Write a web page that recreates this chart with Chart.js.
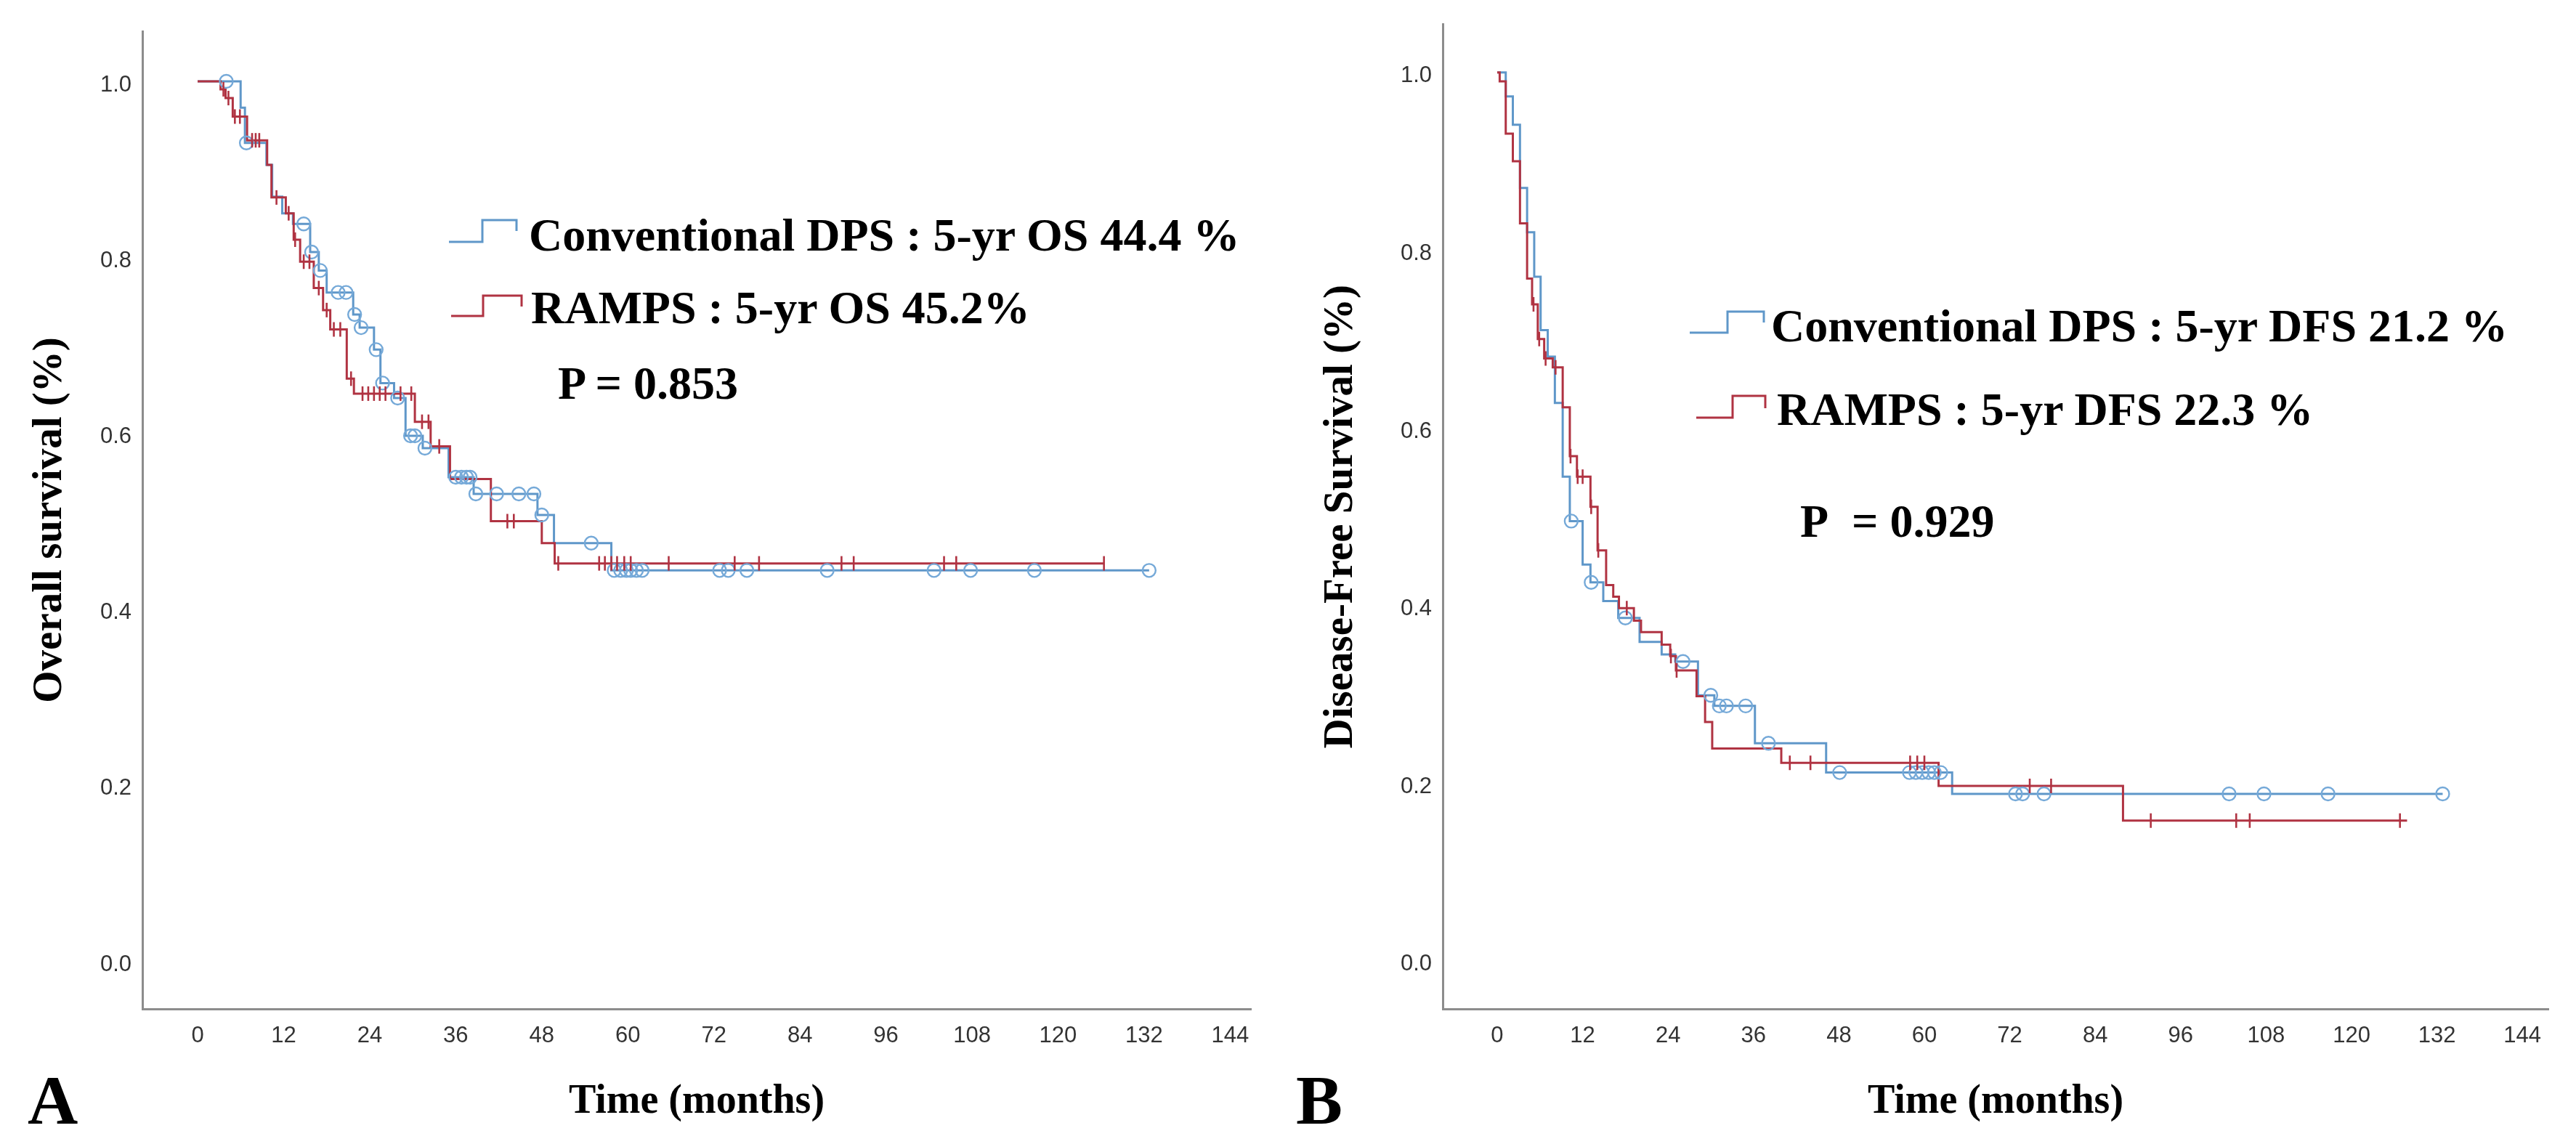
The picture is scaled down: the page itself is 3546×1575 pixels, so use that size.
<!DOCTYPE html>
<html>
<head>
<meta charset="utf-8">
<title>Kaplan-Meier: Conventional DPS vs RAMPS</title>
<script src="https://cdn.jsdelivr.net/npm/chart.js@4.4.1/dist/chart.umd.min.js"></script>
<style>
  html, body { margin: 0; padding: 0; background: #fff; }
  #page { position: relative; width: 3546px; height: 1575px; overflow: hidden; background: #fff; }
  #page canvas { position: absolute; top: 0; display: block; }
  .lbl {
    position: absolute;
    font-family: 'Liberation Serif', 'Times New Roman', serif;
    font-weight: bold;
    color: #000;
    white-space: nowrap;
    line-height: 1;
  }
</style>
</head>
<body>
<div id="page">
  <canvas id="chartA" width="1773" height="1575" style="left:0px;width:1773px;height:1575px"></canvas>
  <canvas id="chartB" width="1773" height="1575" style="left:1773px;width:1773px;height:1575px"></canvas>

  <div class="lbl" style="left:728px;top:292px;font-size:64px">Conventional DPS : 5-yr OS 44.4 %</div>
  <div class="lbl" style="left:731px;top:392px;font-size:64px">RAMPS : 5-yr OS 45.2%</div>
  <div class="lbl" style="left:768px;top:496px;font-size:64px">P = 0.853</div>

  <div class="lbl" style="left:2438px;top:417px;font-size:64px">Conventional DPS : 5-yr DFS 21.2 %</div>
  <div class="lbl" style="left:2446px;top:532px;font-size:64px">RAMPS : 5-yr DFS 22.3 %</div>
  <div class="lbl" style="left:2478px;top:686px;font-size:64px">P&nbsp; = 0.929</div>

  <div class="lbl" style="left:38px;top:1467px;font-size:96px">A</div>
  <div class="lbl" style="left:1784px;top:1467px;font-size:96px">B</div>
</div>

<script>
// axis ticks
const monthTicks = [0, 12, 24, 36, 48, 60, 72, 84, 96, 108, 120, 132, 144]
const survTicks = [0, 0.2, 0.4, 0.6, 0.8, 1.0]

// Panel A, overall survival. Steps: [month, survival after the drop]
const osConvSteps = [
  [0, 1.0], [6.0, 0.970], [6.6, 0.930], [9.6, 0.905], [10.4, 0.869], [11.8, 0.850],
  [13.3, 0.838], [15.7, 0.806], [16.9, 0.785], [18.0, 0.760], [21.7, 0.735], [22.6, 0.720],
  [24.6, 0.695], [25.5, 0.657], [27.4, 0.640], [29.0, 0.597], [31.4, 0.583], [35.0, 0.550],
  [38.5, 0.531], [47.4, 0.507], [49.7, 0.475], [57.7, 0.444], [132.7, 0.444],
]
const osConvCensored = [
  4.0, 6.8, 14.8, 15.9, 17.1, 19.6, 20.7, 21.9, 22.8, 24.9, 25.8, 27.9, 29.7, 30.3, 31.7,
  36.0, 36.8, 37.5, 38.0, 38.8, 41.7, 44.8, 46.9, 48.0, 54.9, 58.1, 59.0, 59.8, 60.4, 61.2,
  62.0, 72.8, 74.0, 76.6, 87.8, 102.7, 107.8, 116.7, 132.7,
]
const osRampsSteps = [
  [0, 1.0], [3.2, 0.991], [3.9, 0.981], [4.9, 0.960], [6.9, 0.933], [9.7, 0.905], [10.3, 0.868],
  [12.3, 0.850], [13.4, 0.820], [14.3, 0.795], [16.2, 0.765], [17.5, 0.740], [18.5, 0.718],
  [20.8, 0.662], [21.8, 0.645], [30.3, 0.613], [32.5, 0.585], [35.2, 0.548], [40.9, 0.500],
  [48.0, 0.475], [49.8, 0.452], [126.4, 0.452],
]
const osRampsCensored = [
  3.6, 4.3, 5.2, 5.9, 7.6, 8.1, 8.6, 11.0, 12.7, 13.6, 14.8, 15.6, 16.9, 18.0, 19.0, 19.9,
  21.4, 23.0, 23.8, 24.6, 25.4, 26.2, 28.3, 29.8, 31.3, 32.2, 33.7, 43.2, 44.1, 50.3, 56.0,
  56.8, 57.7, 58.5, 59.5, 60.4, 65.7, 74.9, 78.3, 89.8, 91.5, 104.1, 105.8, 126.4,
]

// Panel B, disease-free survival
const dfsConvSteps = [
  [0, 1.0], [1.2, 0.973], [2.2, 0.941], [3.2, 0.870], [4.2, 0.820], [5.2, 0.770], [6.1, 0.710],
  [7.1, 0.680], [8.1, 0.628], [9.2, 0.545], [10.2, 0.495], [12.0, 0.446], [13.1, 0.426],
  [14.9, 0.405], [17.0, 0.386], [20.0, 0.359], [23.1, 0.345], [25.0, 0.337], [28.2, 0.299],
  [30.5, 0.287], [36.2, 0.245], [46.2, 0.212], [63.9, 0.188], [132.8, 0.188],
]
const dfsConvCensored = [
  10.4, 13.2, 18.0, 26.1, 30.0, 31.2, 32.2, 34.9, 38.1, 48.1, 57.9, 58.8, 59.7, 60.6, 61.4,
  62.3, 72.8, 73.8, 76.8, 102.8, 107.7, 116.7, 132.8,
]
const dfsRampsSteps = [
  [0, 1.0], [0.35, 0.990], [1.2, 0.931], [2.2, 0.900], [3.2, 0.830], [4.2, 0.768], [4.9, 0.739],
  [5.7, 0.700], [6.6, 0.678], [7.8, 0.668], [9.2, 0.623], [10.2, 0.568], [11.2, 0.545],
  [13.1, 0.511], [14.1, 0.462], [15.3, 0.423], [16.3, 0.410], [17.1, 0.397], [19.2, 0.383],
  [20.2, 0.370], [23.1, 0.356], [24.3, 0.343], [25.1, 0.327], [28.0, 0.298], [29.2, 0.269],
  [30.2, 0.239], [39.9, 0.223], [62.0, 0.197], [87.9, 0.158], [127.8, 0.158],
]
const dfsRampsCensored = [
  5.1, 5.9, 6.8, 8.2, 10.3, 11.3, 12.0, 13.2, 14.2, 18.2, 24.4, 25.2, 41.1, 44.0, 58.0, 59.0,
  60.0, 74.8, 77.8, 91.8, 103.8, 105.7, 126.8,
]

const BLUE = '#5f97c9'
const BLUE_MARK = '#75a9d8'
const RED = '#b03342'
const AXIS = '#8c8c8c'

// survival value of a step curve at month t
function survivalAt(steps, t) {
  let s = steps[0][1]
  for (const [x, y] of steps) {
    if (x <= t) s = y
    else break
  }
  return s
}

// little step glyphs in front of the legend texts
const stepIcons = {
  id: 'stepIcons',
  afterDraw(chart, args, opts) {
    const ctx = chart.ctx
    ;(opts.icons || []).forEach(icon => {
      ctx.save()
      ctx.strokeStyle = icon.color
      ctx.lineWidth = 3
      ctx.lineJoin = 'miter'
      ctx.beginPath()
      icon.path.forEach(([x, y], i) => (i ? ctx.lineTo(x, y) : ctx.moveTo(x, y)))
      ctx.stroke()
      ctx.restore()
    })
  },
}

function kmChart(canvasId, cfg) {
  const canvas = document.getElementById(canvasId)
  if (!canvas) {
    console.error(`Canvas #${canvasId} not found`)
    return null
  }

  const tickFont = { family: "'Liberation Sans', Arial, sans-serif", size: 31 }
  const titleFont = { family: "'Liberation Serif', 'Times New Roman', serif", size: 57, weight: 'bold' }

  const line = (steps, color) => ({
    data: steps.map(([x, y]) => ({ x, y })),
    borderColor: color,
    borderWidth: 3,
    stepped: true,
    pointRadius: 0,
    fill: false,
  })

  return new Chart(canvas.getContext('2d'), {
    type: 'line',
    data: {
      datasets: [
        {
          data: cfg.rampsCensored.map(t => ({ x: t, y: survivalAt(cfg.rampsSteps, t) })),
          showLine: false,
          pointStyle: 'line',
          rotation: 90,
          pointRadius: 10,
          pointBorderWidth: 2.6,
          pointBorderColor: RED,
          borderColor: RED,
        },
        {
          data: cfg.convCensored.map(t => ({ x: t, y: survivalAt(cfg.convSteps, t) })),
          showLine: false,
          pointStyle: 'circle',
          pointRadius: 9,
          pointBorderWidth: 2.4,
          pointBorderColor: BLUE_MARK,
          pointBackgroundColor: 'rgba(0,0,0,0)',
          borderColor: BLUE_MARK,
        },
        line(cfg.rampsSteps, RED),
        line(cfg.convSteps, BLUE),
      ],
    },
    options: {
      responsive: false,
      animation: false,
      devicePixelRatio: 1,
      layout: { padding: cfg.padding },
      plugins: {
        legend: { display: false },
        tooltip: { enabled: false },
        stepIcons: { icons: cfg.icons },
      },
      scales: {
        x: {
          type: 'linear',
          min: cfg.xMin,
          max: cfg.xMax,
          grid: { display: false, drawTicks: false },
          border: { display: true, color: AXIS, width: 3 },
          afterBuildTicks: s => { s.ticks = monthTicks.map(v => ({ value: v })) },
          afterFit: s => { s.height = 186 },
          ticks: { autoSkip: false, maxRotation: 0, padding: 19, color: '#333', font: tickFont, callback: v => String(v) },
          title: {
            display: true, text: 'Time (months)', color: '#000',
            font: { ...titleFont, size: 56 }, padding: { top: 0, bottom: 24 },
          },
        },
        y: {
          type: 'linear',
          min: cfg.yMin,
          max: cfg.yMax,
          grid: { display: false, drawTicks: false },
          border: { display: true, color: AXIS, width: 3 },
          afterBuildTicks: s => { s.ticks = survTicks.map(v => ({ value: v })) },
          afterFit: s => { s.width = cfg.yWidth },
          ticks: { padding: 15, labelOffset: 5, color: '#333', font: tickFont, callback: v => v.toFixed(1) },
          title: {
            display: true, text: cfg.yTitle, color: '#000',
            font: titleFont, padding: { top: cfg.yTitlePad, bottom: 0 },
          },
        },
      },
    },
    plugins: [stepIcons],
  })
}

kmChart('chartA', {
  convSteps: osConvSteps, convCensored: osConvCensored,
  rampsSteps: osRampsSteps, rampsCensored: osRampsCensored,
  yTitle: 'Overall survival (%)',
  xMin: -7.7, xMax: 146.9, yMin: -0.0545, yMax: 1.057,
  yWidth: 196, yTitlePad: 35,
  padding: { left: 0, top: 43, right: 51, bottom: 0 },
  icons: [
    { color: BLUE, path: [[618, 333], [664, 333], [664, 303], [711, 303], [711, 318]] },
    { color: RED, path: [[621, 435], [665, 435], [665, 407], [718, 407], [718, 422]] },
  ],
})

kmChart('chartB', {
  convSteps: dfsConvSteps, convCensored: dfsConvCensored,
  rampsSteps: dfsRampsSteps, rampsCensored: dfsRampsCensored,
  yTitle: 'Disease-Free Survival (%)',
  xMin: -7.65, xMax: 147.65, yMin: -0.054, yMax: 1.054,
  yWidth: 213, yTitlePad: 39,
  padding: { left: 0, top: 32, right: 38, bottom: 0 },
  icons: [
    { color: BLUE, path: [[553, 458], [605, 458], [605, 429], [655, 429], [655, 444]] },
    { color: RED, path: [[562, 575], [612, 575], [612, 545], [657, 545], [657, 562]] },
  ],
})
</script>
</body>
</html>
